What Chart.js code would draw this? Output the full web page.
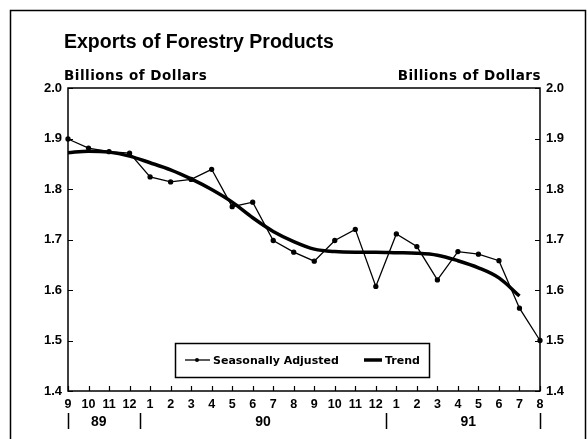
<!DOCTYPE html>
<html>
<head>
<meta charset="utf-8">
<script src="https://cdn.jsdelivr.net/npm/chart.js@4.4.0/dist/chart.umd.min.js"></script>
<style>
  body { margin: 0; background: #fff; }
  canvas { display: block; }
</style>
</head>
<body>
<canvas id="grafico" width="588" height="439"></canvas>
<script>
// datos (miles de millones de dolares)
const meses = ["9","10","11","12","1","2","3","4","5","6","7","8","9","10","11","12","1","2","3","4","5","6","7","8"];
const anios = ["89", "90", "91"];
const anioDesde = [0, 4, 16];
const anioHasta = [3, 15, 23];

const ajustado = [1.899, 1.881, 1.874, 1.871, 1.824, 1.814, 1.819, 1.839, 1.765, 1.774, 1.698, 1.675,
                  1.657, 1.698, 1.720, 1.607, 1.711, 1.686, 1.620, 1.676, 1.671, 1.658, 1.564, 1.500];
const tendencia = [1.872, 1.875, 1.873, 1.865, 1.852, 1.838, 1.820, 1.799, 1.774, 1.743, 1.716, 1.696,
                   1.681, 1.676, 1.675, 1.675, 1.674, 1.673, 1.669, 1.658, 1.644, 1.624, 1.588, null];

const yMin = 1.4, yMax = 2.0, yPaso = 0.1;

const fuenteNum = "'Liberation Sans', Arial, sans-serif";
const fuenteTxt = "'DejaVu Sans', sans-serif";

// textos, marco, ticks interiores, separadores de anio y leyenda
const decorado = {
  id: "decorado",
  beforeDraw(chart) {
    const c = chart.ctx;
    c.save();
    c.fillStyle = "#fff";
    c.fillRect(0, 0, chart.width, chart.height);
    c.strokeStyle = "#000";
    c.lineWidth = 1.5;
    c.strokeRect(10.5, 10.5, 575, 440);
    c.restore();
  },
  afterDraw(chart) {
    const c = chart.ctx;
    const a = chart.chartArea;
    const x = chart.scales.x;
    const y = chart.scales.y;
    c.save();
    c.fillStyle = "#000";
    c.strokeStyle = "#000";

    // titulo
    c.font = "bold 19.5px " + fuenteNum;
    c.textBaseline = "alphabetic";
    c.textAlign = "left";
    c.fillText("Exports of Forestry Products", 64, 48);

    c.font = "bold 13.5px " + fuenteTxt;
    c.letterSpacing = "0.5px";
    c.fillText("Billions of Dollars", 64, 80);
    c.textAlign = "right";
    c.fillText("Billions of Dollars", a.right + 1, 80);
    c.letterSpacing = "0px";

    // marco del area
    c.lineWidth = 1.5;
    c.strokeRect(a.left, a.top, a.right - a.left, a.bottom - a.top);

    // ticks hacia adentro
    c.lineWidth = 1.2;
    c.beginPath();
    y.ticks.forEach(t => {
      const py = Math.round(y.getPixelForValue(t.value)) + 0.5;
      c.moveTo(a.left, py); c.lineTo(a.left + 5, py);
      c.moveTo(a.right, py); c.lineTo(a.right - 5, py);
    });
    meses.forEach((m, i) => {
      const px = Math.round(x.getPixelForValue(i)) + 0.5;
      c.moveTo(px, a.bottom); c.lineTo(px, a.bottom - 5);
    });
    c.stroke();

    // anios y separadores
    c.font = "bold 14px " + fuenteNum;
    c.textAlign = "center";
    c.textBaseline = "middle";
    anios.forEach((an, k) => {
      const cx = (x.getPixelForValue(anioDesde[k]) + x.getPixelForValue(anioHasta[k])) / 2;
      c.fillText(an, cx, 422);
    });
    const seps = [x.getPixelForValue(0), x.getPixelForValue(meses.length - 1)];
    for (let k = 1; k < anios.length; k++) {
      seps.push((x.getPixelForValue(anioHasta[k - 1]) + x.getPixelForValue(anioDesde[k])) / 2);
    }
    c.lineWidth = 1.5;
    c.beginPath();
    seps.forEach(sx => {
      const px = Math.round(sx) + 0.5;
      c.moveTo(px, 413); c.lineTo(px, 429);
    });
    c.stroke();

    // leyenda
    const lx = 175, ly = 343, lw = 254, lh = 34, my = ly + lh / 2;
    c.fillStyle = "#fff";
    c.fillRect(lx, ly, lw, lh);
    c.fillStyle = "#000";
    c.lineWidth = 1.5;
    c.strokeRect(lx + 0.5, ly + 0.5, lw, lh);
    c.lineWidth = 1.3;
    c.beginPath(); c.moveTo(185, my); c.lineTo(210, my); c.stroke();
    c.beginPath(); c.arc(197, my, 2, 0, Math.PI * 2); c.fill();
    c.lineWidth = 3.5;
    c.beginPath(); c.moveTo(364, my); c.lineTo(382, my); c.stroke();
    c.font = "bold 11px " + fuenteTxt;
    c.textAlign = "left";
    c.textBaseline = "middle";
    c.fillText("Seasonally Adjusted", 213, my + 1);
    c.fillText("Trend", 385, my + 1);
    c.restore();
  }
};

const ctx = document.querySelector("#grafico").getContext("2d");

const configuracion = {
  type: "line",
  data: {
    labels: meses,
    datasets: [
      {
        label: "Seasonally Adjusted",
        data: ajustado,
        borderColor: "#000",
        backgroundColor: "#000",
        borderWidth: 1.3,
        pointRadius: 2,
        pointStyle: "circle",
        tension: 0,
        clip: false,
        yAxisID: "y"
      },
      {
        label: "Trend",
        data: tendencia,
        borderColor: "#000",
        borderWidth: 3.5,
        pointRadius: 0,
        tension: 0.35,
        cubicInterpolationMode: "monotone",
        clip: false,
        yAxisID: "y"
      }
    ]
  },
  options: {
    responsive: false,
    animation: false,
    layout: { padding: { top: 88, left: 0, right: 0, bottom: 0 } },
    plugins: {
      legend: { display: false },
      tooltip: { enabled: false },
      title: { display: false }
    },
    scales: {
      x: {
        type: "category",
        offset: false,
        grid: { display: false, drawTicks: false },
        border: { display: false },
        ticks: {
          autoSkip: false,
          maxRotation: 0,
          padding: 6,
          color: "#000",
          font: { family: fuenteNum, size: 12.5, weight: "bold" }
        },
        afterFit(s) { s.height = 48; }
      },
      y: {
        position: "left",
        min: yMin,
        max: yMax,
        grid: { display: false, drawTicks: false },
        border: { display: false },
        ticks: {
          stepSize: yPaso,
          padding: 6,
          color: "#000",
          font: { family: fuenteNum, size: 13, weight: "bold" },
          callback: v => v.toFixed(1)
        },
        afterFit(s) { s.width = 68; }
      },
      y2: {
        position: "right",
        min: yMin,
        max: yMax,
        grid: { display: false, drawTicks: false },
        border: { display: false },
        ticks: {
          stepSize: yPaso,
          padding: 6,
          color: "#000",
          font: { family: fuenteNum, size: 13, weight: "bold" },
          callback: v => v.toFixed(1)
        },
        afterFit(s) { s.width = 48; }
      }
    }
  },
  plugins: [decorado]
};

const grafico = new Chart(ctx, configuracion);
</script>
</body>
</html>
